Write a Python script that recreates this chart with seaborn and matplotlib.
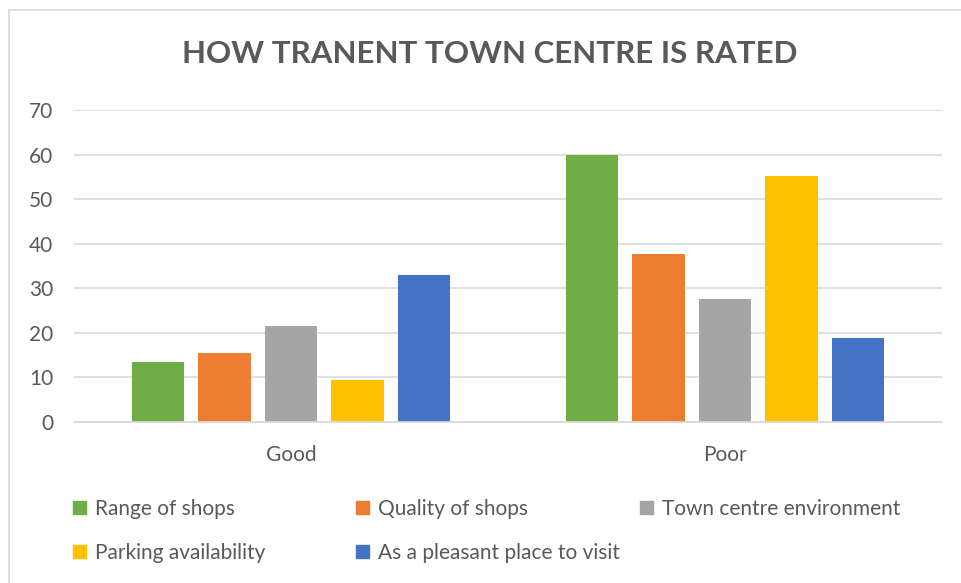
import numpy as np
import pandas as pd
import matplotlib
matplotlib.use("Agg")
import matplotlib.pyplot as plt
import seaborn as sns
from matplotlib.patches import Rectangle

# Data
ratings = ["Good", "Poor"]
aspects = ["Range of shops", "Quality of shops", "Town centre environment",
           "Parking availability", "As a pleasant place to visit"]
good_values = [13.4, 15.5, 21.5, 9.4, 32.9]
poor_values = [60.0, 37.6, 27.6, 55.2, 18.9]
colors = ["#70AD47", "#ED7D31", "#A5A5A5", "#FFC000", "#4472C4"]
y_ticks = [0, 10, 20, 30, 40, 50, 60, 70]

TEXT = "#595959"
GRID = "#D9D9D9"

rows = []
for rating, vals in zip(ratings, [good_values, poor_values]):
    for aspect, v in zip(aspects, vals):
        rows.append({"Rating": rating, "Aspect": aspect, "Value": v})
df = pd.DataFrame(rows)

sns.set_style("white")
plt.rcParams["font.family"] = ["Lato", "DejaVu Sans"]

W, H = 962, 583
fig = plt.figure(figsize=(W / 100, H / 100), dpi=100)
ax = fig.add_axes([74 / W, 1 - 422 / H, (942 - 74) / W, (422 - 110) / H])

sns.barplot(data=df, x="Rating", y="Value", hue="Aspect", hue_order=aspects,
            order=ratings, palette=colors, saturation=1, width=0.765, gap=0.21,
            linewidth=0, ax=ax, legend=False)

ax.set_ylim(0, 70)
ax.set_yticks(y_ticks)
ax.set_xlabel("")
ax.set_ylabel("")
ax.grid(axis="y", color=GRID, linewidth=1.2)
ax.set_axisbelow(True)
for s in ["top", "right", "left"]:
    ax.spines[s].set_visible(False)
ax.spines["bottom"].set_color(GRID)
ax.spines["bottom"].set_linewidth(1.2)
ax.tick_params(axis="y", length=0, pad=15, labelsize=15, labelcolor=TEXT)
ax.tick_params(axis="x", length=0, pad=16.5, labelsize=15, labelcolor=TEXT)

fig.text(490 / W, 1 - 54 / H, "HOW TRANENT TOWN CENTRE IS RATED",
         ha="center", va="center", fontsize=22.5, fontweight="bold", color=TEXT)

# chart border
fig.patches.append(Rectangle((9 / W, -0.05), 1.1, 1 - 10 / H + 0.05,
                             transform=fig.transFigure, fill=False,
                             edgecolor=GRID, linewidth=1.2))

# legend laid out in rows like the original
handles = [Rectangle((0, 0), 1, 1, color=c) for c in colors]
col_x = [73, 356, 640]
columns = [[0, 3], [1, 4], [2]]
for x, idx in zip(col_x, columns):
    fig.legend([handles[i] for i in idx], [aspects[i] for i in idx],
               loc="upper left", bbox_to_anchor=(x / W, 1 - 499 / H),
               frameon=False, fontsize=15, labelcolor=TEXT,
               handlelength=0.62, handleheight=0.62, handletextpad=0.45,
               labelspacing=1.15, borderpad=0, borderaxespad=0)

fig.savefig("out.png", dpi=100)
